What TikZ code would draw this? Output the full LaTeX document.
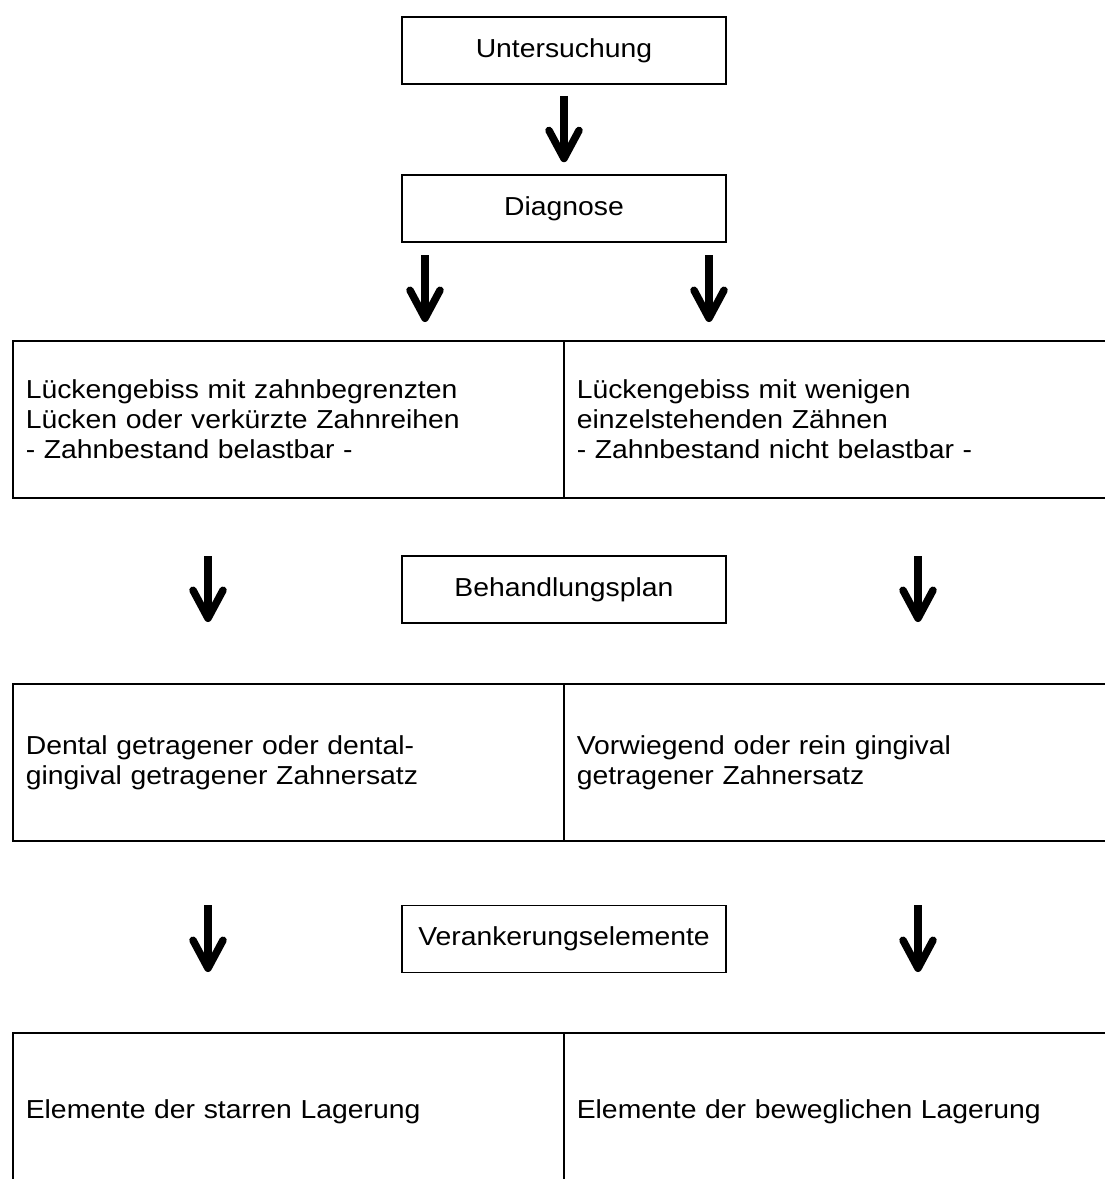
\documentclass[tikz,border=0pt]{standalone}
\usepackage{fontspec}
\setmainfont{Liberation Sans}[FakeStretch=1.09]
\usetikzlibrary{arrows.meta,positioning}

\begin{document}
\begin{tikzpicture}[x=1pt,y=-1pt,node distance=158pt,on grid,
    font=\fontsize{26}{30}\selectfont,
    box/.style={draw,line width=1.6pt,minimum width=324pt,minimum height=67pt,inner sep=0pt},
    cell/.style={draw,line width=1.6pt,anchor=north west,minimum height=157pt,inner xsep=13pt,align=left},
    arr/.style={line width=7.5pt,-{Straight Barb[length=28pt,width=30pt,line width=7.5pt,round]}}]
                \clip (0,0) rectangle (1105,1179);
                % Kaestchen in der Mitte
                \node[box](unt) at (564,50.5) {Untersuchung};
                \node[box](diag) [below=of unt] {Diagnose};
                \node[box](plan) at (564,589.5) {Behandlungsplan};
                \node[box](anker) at (564,939) {Verankerungselemente};
                % Zeilen mit zwei Spalten
                \node[cell,text width=525pt](lueckeL) at (12,340)
                    {L\"uckengebiss mit zahnbegrenzten\\L\"ucken oder verk\"urzte Zahnreihen\\- Zahnbestand belastbar -};
                \node[cell,text width=521pt](lueckeR) at (563,340)
                    {L\"uckengebiss mit wenigen\\einzelstehenden Z\"ahnen\\- Zahnbestand nicht belastbar -};
                \node[cell,text width=525pt](ersatzL) at (12,683)
                    {Dental getragener oder dental-\\gingival getragener Zahnersatz\\[16pt]};
                \node[cell,text width=521pt](ersatzR) at (563,683)
                    {Vorwiegend oder rein gingival\\getragener Zahnersatz\\[16pt]};
                \node[cell,text width=525pt](lagerL) at (12,1032) {Elemente der starren Lagerung};
                \node[cell,text width=521pt](lagerR) at (563,1032) {Elemente der beweglichen Lagerung};
                % Pfeile
                \coordinate (d1) at (425,255);
                \coordinate (d1e) at (425,322);
                \coordinate (d2) at (709,255);
                \coordinate (d2e) at (709,322);
                \coordinate (p1) at (208,556);
                \coordinate (p1e) at (208,622);
                \coordinate (p2) at (918,556);
                \coordinate (p2e) at (918,622);
                \coordinate (a1) at (208,905);
                \coordinate (a1e) at (208,972);
                \coordinate (a2) at (918,905);
                \coordinate (a2e) at (918,972);
                \draw[arr,shorten <=11pt,shorten >=12pt] (unt) -- (diag);
                \draw[arr] (d1) -- (d1e);
                \draw[arr] (d2) -- (d2e);
                \draw[arr] (p1) -- (p1e);
                \draw[arr] (p2) -- (p2e);
                \draw[arr] (a1) -- (a1e);
                \draw[arr] (a2) -- (a2e);
            \end{tikzpicture}
\end{document}
